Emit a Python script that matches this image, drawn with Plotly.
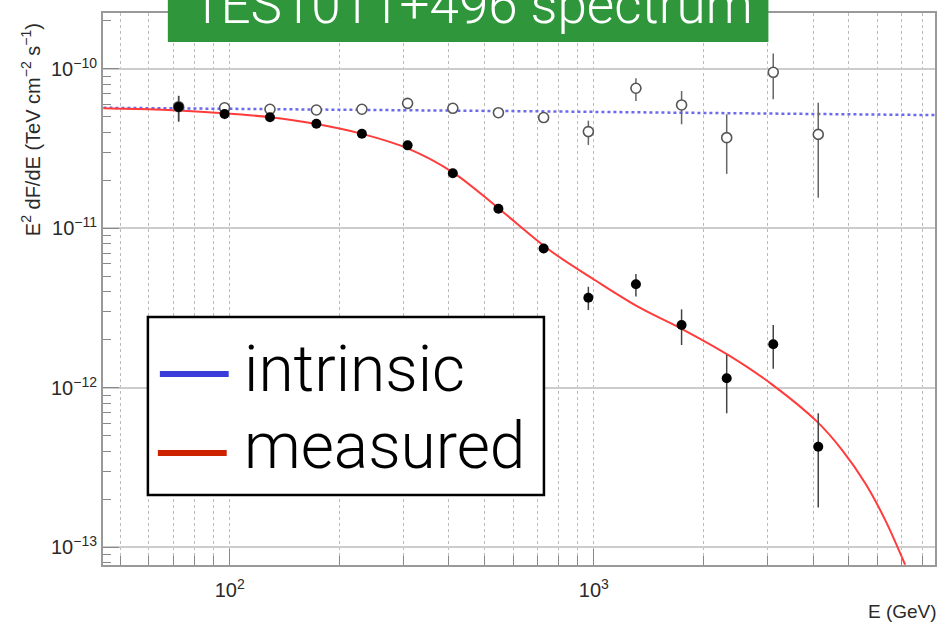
import plotly.graph_objects as go

# ---------------- data ----------------
energy_gev = [72.4, 96.8, 129, 173, 230.7, 308, 410, 547, 728, 966, 1305, 1742, 2317, 3110, 4134]

measured_flux = [5.78e-11, 5.22e-11, 4.98e-11, 4.54e-11, 3.93e-11, 3.32e-11, 2.22e-11, 1.33e-11,
                 7.48e-12, 3.68e-12, 4.47e-12, 2.48e-12, 1.15e-12, 1.88e-12, 4.28e-13]
measured_hi = [6.77e-11, 5.6e-11, 5.25e-11, 4.75e-11, 4.1e-11, 3.47e-11, 2.32e-11, 1.40e-11,
               7.95e-12, 4.31e-12, 5.19e-12, 3.11e-12, 1.61e-12, 2.48e-12, 6.94e-13]
measured_lo = [4.67e-11, 4.85e-11, 4.72e-11, 4.33e-11, 3.76e-11, 3.17e-11, 2.12e-11, 1.26e-11,
               7.0e-12, 3.08e-12, 3.74e-12, 1.86e-12, 6.94e-13, 1.32e-12, 1.78e-13]

intrinsic_flux = [5.8e-11, 5.71e-11, 5.59e-11, 5.53e-11, 5.59e-11, 6.09e-11, 5.67e-11, 5.32e-11,
                  4.96e-11, 4.05e-11, 7.57e-11, 5.95e-11, 3.71e-11, 9.53e-11, 3.89e-11]
intrinsic_hi = [6.8e-11, 6.1e-11, 5.85e-11, 5.8e-11, 5.9e-11, 6.45e-11, 6.05e-11, 5.7e-11,
                5.35e-11, 4.74e-11, 8.74e-11, 7.28e-11, 5.20e-11, 1.25e-10, 6.15e-11]
intrinsic_lo = [4.7e-11, 5.3e-11, 5.33e-11, 5.25e-11, 5.3e-11, 5.75e-11, 5.3e-11, 4.95e-11,
                4.6e-11, 3.34e-11, 6.30e-11, 4.50e-11, 2.20e-11, 6.46e-11, 1.56e-11]

# model curves
measured_model_e = [45, 60, 72, 97, 129, 173, 231, 308, 410, 547, 755, 1014, 1333, 1742,
                    2350, 3090, 4103, 4808, 5570, 6310, 7160]
measured_model_f = [5.68e-11, 5.6e-11, 5.5e-11, 5.28e-11, 4.98e-11, 4.52e-11, 3.92e-11, 3.18e-11,
                    2.25e-11, 1.34e-11, 7.33e-12, 4.7e-12, 3.2e-12, 2.35e-12,
                    1.6e-12, 1.05e-12, 6.15e-13, 4.08e-13, 2.52e-13, 1.49e-13, 7.8e-14]

intrinsic_model_e = [45, 300, 750, 2000, 8650]
intrinsic_model_f = [5.71e-11, 5.55e-11, 5.42e-11, 5.3e-11, 5.14e-11]

x_major = [100, 1000]
x_major_text = ["10<sup>2</sup>", "10<sup>3</sup>"]
x_minor = [50, 60, 70, 80, 90, 200, 300, 400, 500, 600, 700, 800, 900,
           2000, 3000, 4000, 5000, 6000, 7000, 8000]
y_major = [1e-13, 1e-12, 1e-11, 1e-10]
y_major_text = ["10<sup>\u221213</sup>", "10<sup>\u221212</sup>", "10<sup>\u221211</sup>", "10<sup>\u221210</sup>"]
y_minor = [m * 10.0 ** k for k in (-14, -13, -12, -11, -10) for m in range(2, 10)]

title_text = "1ES1011+496 spectrum"
legend_labels = ["intrinsic", "measured"]
x_title = "E (GeV)"
y_title = "E<sup>2</sup> dF/dE (TeV cm<sup>\u22122</sup> s<sup>\u22121</sup>)"

# ---------------- geometry helpers ----------------
W, H = 942, 626
L, R, T, B = 103, 937, 13, 565


def px_x(p):
    return (p - L) / (R - L)


def px_y(p):
    return (B - p) / (B - T)


fig = go.Figure()

fig.add_trace(go.Scatter(x=intrinsic_model_e, y=intrinsic_model_f, mode="lines",
                         line=dict(color="#6a6af0", width=2.5, dash="dot"),
                         showlegend=False, hoverinfo="skip"))
fig.add_trace(go.Scatter(x=measured_model_e, y=measured_model_f, mode="lines",
                         line=dict(color="#ff3b3b", width=2, shape="spline", smoothing=1.0),
                         showlegend=False, hoverinfo="skip"))

fig.add_trace(go.Scatter(
    x=energy_gev, y=intrinsic_flux, mode="markers",
    marker=dict(symbol="circle", size=10, color="white", line=dict(color="#555555", width=1.6)),
    error_y=dict(type="data", symmetric=False,
                 array=[h - v for h, v in zip(intrinsic_hi, intrinsic_flux)],
                 arrayminus=[v - l for v, l in zip(intrinsic_flux, intrinsic_lo)],
                 color="#666666", thickness=1.5, width=0),
    showlegend=False))

fig.add_trace(go.Scatter(
    x=energy_gev, y=measured_flux, mode="markers",
    marker=dict(symbol="circle", size=10, color="black"),
    error_y=dict(type="data", symmetric=False,
                 array=[h - v for h, v in zip(measured_hi, measured_flux)],
                 arrayminus=[v - l for v, l in zip(measured_flux, measured_lo)],
                 color="#444444", thickness=1.5, width=0),
    showlegend=False))

tick_font = dict(family="Liberation Sans, Arial, sans-serif", size=20, color="#2a2a2a")

fig.update_xaxes(
    type="log", range=[1.652, 3.937],
    tickmode="array", tickvals=x_major, ticktext=x_major_text,
    ticks="inside", ticklen=16, tickcolor="#888888", tickwidth=1,
    showgrid=True, gridcolor="#bbbbbb", gridwidth=1, griddash="dot",
    minor=dict(tickmode="array", tickvals=x_minor, ticks="inside", ticklen=9,
               tickcolor="#888888", showgrid=True, gridcolor="#bbbbbb", gridwidth=1, griddash="dot"),
    showline=True, linecolor="#999999", linewidth=2, mirror=True,
    tickfont=tick_font, ticklabelstandoff=6, zeroline=False,
)
fig.update_yaxes(
    type="log", range=[-13.11, -9.649],
    tickmode="array", tickvals=y_major, ticktext=y_major_text,
    ticks="inside", ticklen=16, tickcolor="#888888", tickwidth=1,
    showgrid=True, gridcolor="#cccccc", gridwidth=1.5,
    minor=dict(tickmode="array", tickvals=y_minor, ticks="inside", ticklen=8,
               tickcolor="#888888", showgrid=False),
    showline=True, linecolor="#999999", linewidth=2, mirror=True,
    tickfont=tick_font, zeroline=False,
)

shapes = [
    # title box
    dict(type="rect", xref="paper", yref="paper",
         x0=px_x(168), x1=px_x(770), y0=px_y(42), y1=px_y(-5),
         fillcolor="#2f963b", line=dict(width=0), layer="above"),
    # legend box
    dict(type="rect", xref="paper", yref="paper",
         x0=px_x(148), x1=px_x(545), y0=px_y(495), y1=px_y(317),
         fillcolor="white", line=dict(color="black", width=2.5), layer="above"),
    dict(type="line", xref="paper", yref="paper",
         x0=px_x(160), x1=px_x(229), y0=px_y(374), y1=px_y(374),
         line=dict(color="#3b3bd9", width=6), layer="above"),
    dict(type="line", xref="paper", yref="paper",
         x0=px_x(158), x1=px_x(227), y0=px_y(453), y1=px_y(453),
         line=dict(color="#cc2200", width=6), layer="above"),
]

light = dict(family="Roboto, Liberation Sans, sans-serif", color="black", size=64, weight=300)

annotations = [
    dict(text=title_text, xref="paper", yref="paper", x=px_x(473), y=px_y(5),
         xanchor="center", yanchor="middle", showarrow=False,
         font=dict(family="Roboto, Liberation Sans, sans-serif", size=53, color="white", weight=300)),
    dict(text=legend_labels[0], xref="paper", yref="paper", x=px_x(242), y=px_y(369),
         xanchor="left", yanchor="middle", showarrow=False, font=light),
    dict(text=legend_labels[1], xref="paper", yref="paper", x=px_x(242), y=px_y(446),
         xanchor="left", yanchor="middle", showarrow=False, font=light),
    dict(text=x_title, xref="paper", yref="paper", x=px_x(941), y=px_y(611),
         xanchor="right", yanchor="middle", showarrow=False,
         font=dict(family="Liberation Sans, Arial, sans-serif", size=19, color="#2a2a2a")),
    dict(text=y_title, xref="paper", yref="paper", x=px_x(30), y=px_y(130),
         xanchor="center", yanchor="middle", showarrow=False, textangle=-90,
         font=dict(family="Liberation Sans, Arial, sans-serif", size=20, color="#2a2a2a")),
]

fig.update_layout(
    width=W, height=H,
    margin=dict(l=L, r=W - R, t=T, b=H - B),
    paper_bgcolor="white", plot_bgcolor="white",
    shapes=shapes, annotations=annotations,
    showlegend=False,
)

fig.write_html("out.html")
